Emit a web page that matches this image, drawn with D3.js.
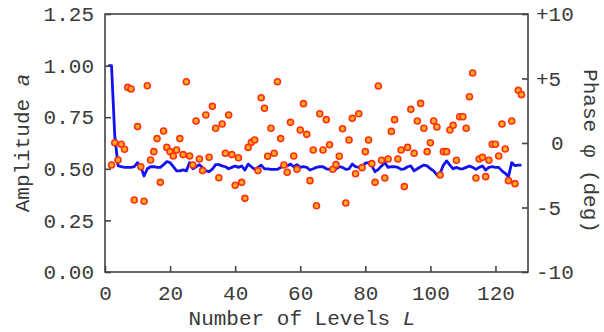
<!DOCTYPE html>
<html>
<head>
<meta charset="utf-8">
<script src="https://cdn.jsdelivr.net/npm/d3@7/dist/d3.min.js"></script>
<style>
  html, body { margin: 0; padding: 0; background: #fff; }
  svg { display: block; }
  text { font-family: "Liberation Mono", "Courier New", "DejaVu Sans Mono", monospace; fill: #3a3a3a; }
  .axis path.domain { display: none; }
  .axis line { stroke: #444; stroke-width: 1.6; }
  .axis text { font-size: 21px; }
</style>
</head>
<body>
<svg id="chart" width="604" height="332"></svg>
<script>
// amplitude a, one value per level L = 1..128
var amplitude = [
  1.0, 1.0, 0.66, 0.515, 0.51, 0.507, 0.507, 0.507, 0.51, 0.53,
  0.51, 0.465, 0.50, 0.51, 0.51, 0.507, 0.507, 0.52, 0.535, 0.53,
  0.51, 0.49, 0.49, 0.495, 0.49, 0.53, 0.50, 0.51, 0.52, 0.505,
  0.49, 0.486, 0.498, 0.52, 0.52, 0.514, 0.51, 0.50, 0.507, 0.514,
  0.507, 0.514, 0.494, 0.523, 0.51, 0.497, 0.507, 0.518, 0.50, 0.50,
  0.497, 0.497, 0.497, 0.507, 0.514, 0.514, 0.523, 0.51, 0.52, 0.507,
  0.51, 0.507, 0.494, 0.50, 0.507, 0.51, 0.51, 0.50, 0.497, 0.50,
  0.50, 0.51, 0.507, 0.497, 0.50, 0.523, 0.51, 0.507, 0.507, 0.527,
  0.53, 0.514, 0.486, 0.497, 0.514, 0.53, 0.507, 0.51, 0.51, 0.507,
  0.497, 0.50, 0.51, 0.514, 0.49, 0.50, 0.51, 0.518, 0.514, 0.50,
  0.49, 0.47, 0.478, 0.518, 0.538, 0.518, 0.50, 0.507, 0.50, 0.50,
  0.507, 0.514, 0.507, 0.497, 0.507, 0.514, 0.494, 0.507, 0.51, 0.507,
  0.507, 0.49, 0.478, 0.462, 0.53, 0.515, 0.518, 0.518
];
var ampStart = 1;

// phase (deg), one value per level L = 2..128
var phase = [
  -1.71, 0.02, -1.32, -0.10, -0.49, 4.31, 4.19, -4.42, 1.27, -1.84,
  -4.52, 4.44, -1.32, -0.67, 0.34, -3.05, 0.93, -0.34, -0.67, -1.01,
  -0.54, 0.34, -0.90, 4.75, -1.01, -1.71, 1.71, -1.24, -2.14, 2.17,
  -1.11, 2.84, 1.14, -2.69, 1.47, -0.80, 2.17, -0.90, -3.28, -1.14,
  -3.05, -4.29, -0.34, 0.05, 0.23, -2.14, 3.51, 2.69, -1.03, 1.14,
  -0.80, 4.75, 0.34, -1.71, -2.27, 1.60, -1.01, -2.04, 1.01, 3.05,
  0.67, -2.92, -0.54, -4.86, 2.27, -0.54, 1.81, -0.13, -2.04, -1.68,
  -1.03, 1.11, -4.65, 0.23, 1.91, -2.38, 2.27, -1.91, -0.67, 0.23,
  -1.60, -3.05, 4.42, -1.34, -2.71, -1.24, 0.90, 1.81, -1.24, -0.54,
  -3.38, -0.34, 2.61, -0.80, 1.71, 3.07, 1.14, -0.67, 0.02, 1.71,
  1.24, -2.48, -0.67, -0.67, 1.01, 1.37, -1.34, 2.04, 2.04, 1.14,
  3.59, 5.43, -2.71, -1.24, -1.11, -2.61, -1.34, -0.10, -0.10, -1.01,
  1.47, -0.47, -2.92, 1.71, -3.15, 4.08, 3.75
];
var phaseStart = 2;

var xTicks = [0, 20, 40, 60, 80, 100, 120];
var ampTicks = [0, 0.25, 0.5, 0.75, 1.0, 1.25];
var phaseTicks = [-10, -5, 0, 5, 10];
var phaseTickLabels = ["-10", "-5", "0", "+5", "+10"];

var svg = d3.select("#chart"),
    margin = {top: 14, right: 76, bottom: 60, left: 105},
    width = +svg.attr("width") - margin.left - margin.right,
    height = +svg.attr("height") - margin.top - margin.bottom,
    g = svg.append("g").attr("transform", "translate(" + margin.left + "," + margin.top + ")");

var x = d3.scaleLinear().domain([0, 130]).range([0, width]);
var yAmp = d3.scaleLinear().domain([0, 1.25]).range([height, 0]);
var yPhase = d3.scaleLinear().domain([-10, 10]).range([height, 0]);

// amplitude line
var line = d3.line()
    .x(function(d, i) { return x(i + ampStart); })
    .y(function(d) { return yAmp(d); });

g.append("path")
    .datum(amplitude)
    .attr("fill", "none")
    .attr("stroke", "#1212f2")
    .attr("stroke-width", 2.8)
    .attr("stroke-linejoin", "round")
    .attr("d", line);

// phase dots
g.append("g")
  .selectAll("circle")
  .data(phase)
  .enter().append("circle")
    .attr("cx", function(d, i) { return x(i + phaseStart); })
    .attr("cy", function(d) { return yPhase(d); })
    .attr("r", 3)
    .attr("fill", "#ffaa22")
    .attr("stroke", "#ff3010")
    .attr("stroke-width", 1.6);

// axes, ticks pointing inward
g.append("g")
    .attr("class", "axis")
    .call(d3.axisLeft(yAmp).tickValues(ampTicks).tickSize(-6).tickPadding(11)
      .tickFormat(d3.format(".2f")));

var right = g.append("g")
    .attr("class", "axis")
    .attr("transform", "translate(" + width + ",0)")
    .call(d3.axisRight(yPhase).tickValues(phaseTicks).tickSize(-6).tickPadding(8)
      .tickFormat(function(d, i) { return phaseTickLabels[i]; }));
right.selectAll("text")
    .attr("dx", function(d) { return d === 0 ? "0.72em" : 0; });

g.append("g")
    .attr("class", "axis")
    .attr("transform", "translate(0," + height + ")")
    .call(d3.axisBottom(x).tickValues(xTicks).tickSize(-6).tickPadding(13));

// frame
g.append("rect")
    .attr("width", width)
    .attr("height", height)
    .attr("fill", "none")
    .attr("stroke", "#444")
    .attr("stroke-width", 1.6);

// titles
var yTitle = svg.append("text")
    .attr("transform", "translate(29,143) rotate(-90)")
    .attr("text-anchor", "middle")
    .attr("font-size", 21);
yTitle.append("tspan").text("Amplitude ");
yTitle.append("tspan").attr("font-style", "italic").text("a");

svg.append("text")
    .attr("transform", "translate(584,151) rotate(90)")
    .attr("text-anchor", "middle")
    .attr("font-size", 21)
    .text("Phase \u03c6 (deg)");

var xTitle = svg.append("text")
    .attr("x", 302)
    .attr("y", 325)
    .attr("text-anchor", "middle")
    .attr("font-size", 21);
xTitle.append("tspan").text("Number of Levels ");
xTitle.append("tspan").attr("font-style", "italic").text("L");
</script>
</body>
</html>
